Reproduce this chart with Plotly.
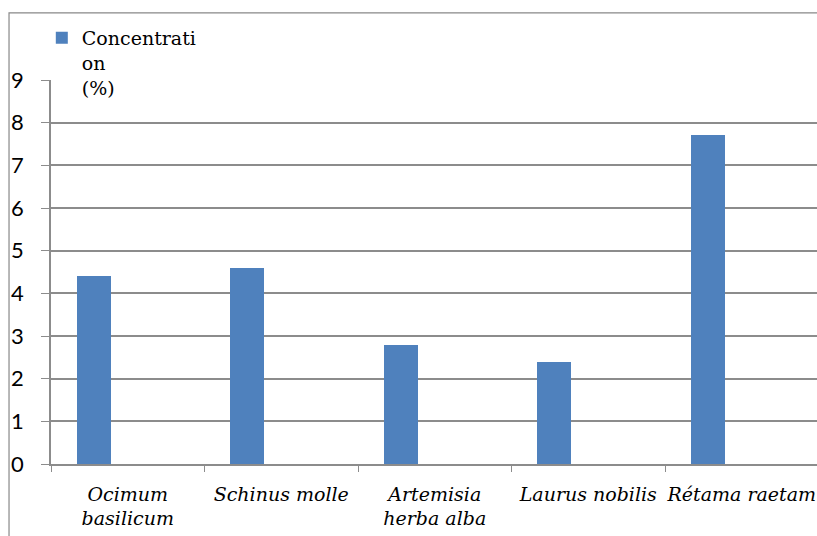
import plotly.graph_objects as go

# Essential-oil yield per plant species
species = [
    "Ocimum<br>basilicum",
    "Schinus molle",
    "Artemisia<br>herba alba",
    "Laurus nobilis",
    "Rétama raetam",
]
concentration = [4.4, 4.6, 2.8, 2.4, 7.7]
y_ticks = list(range(0, 10))

BLUE = "#4F81BD"
GRID = "#8c8c8c"
SERIF = "DejaVu Serif"

fig = go.Figure()
fig.add_trace(go.Bar(
    x=species,
    y=concentration,
    name="Concentrati<br>on<br>(%)",
    marker=dict(color=BLUE, line=dict(width=0)),
    width=1 / 4.5,
    offset=-1.5 / 4.5,
))

# chart-area frame
fig.add_shape(
    type="rect", xref="paper", yref="paper",
    x0=-0.0548, x1=1.02, y0=-0.25, y1=1.1747,
    line=dict(color="#888888", width=1.2),
    fillcolor="rgba(0,0,0,0)", layer="below",
)

fig.update_layout(
    width=817, height=536,
    margin=dict(l=51, r=0, t=80, b=72, autoexpand=False),
    paper_bgcolor="white", plot_bgcolor="white",
    showlegend=True,
    legend=dict(
        x=-0.012, y=1.159, xanchor="left", yanchor="top",
        bgcolor="rgba(0,0,0,0)",
        font=dict(family=SERIF, size=19, color="black"),
        valign="top", itemwidth=30,
    ),
    bargap=0,
)

fig.update_xaxes(
    type="category",
    range=[-0.5, 4.49],
    automargin=False,
    tickangle=0,
    tickson="boundaries",
    ticks="outside", ticklen=6, tickcolor=GRID, tickwidth=1.2,
    showline=True, linecolor=GRID, linewidth=1.5,
    showgrid=False,
    tickfont=dict(family=SERIF, size=19, color="black", style="italic"),
    ticklabelstandoff=12,
)

fig.update_yaxes(
    range=[0, 9],
    automargin=False,
    tickvals=y_ticks,
    ticks="outside", ticklen=8, tickcolor=GRID, tickwidth=1.2,
    showline=True, linecolor=GRID, linewidth=1.5,
    showgrid=True, gridcolor=GRID, gridwidth=1.5,
    zeroline=False,
    tickfont=dict(family="Lato", size=22, color="black"),
    ticklabelstandoff=13,
)

fig.write_html("out.html")
